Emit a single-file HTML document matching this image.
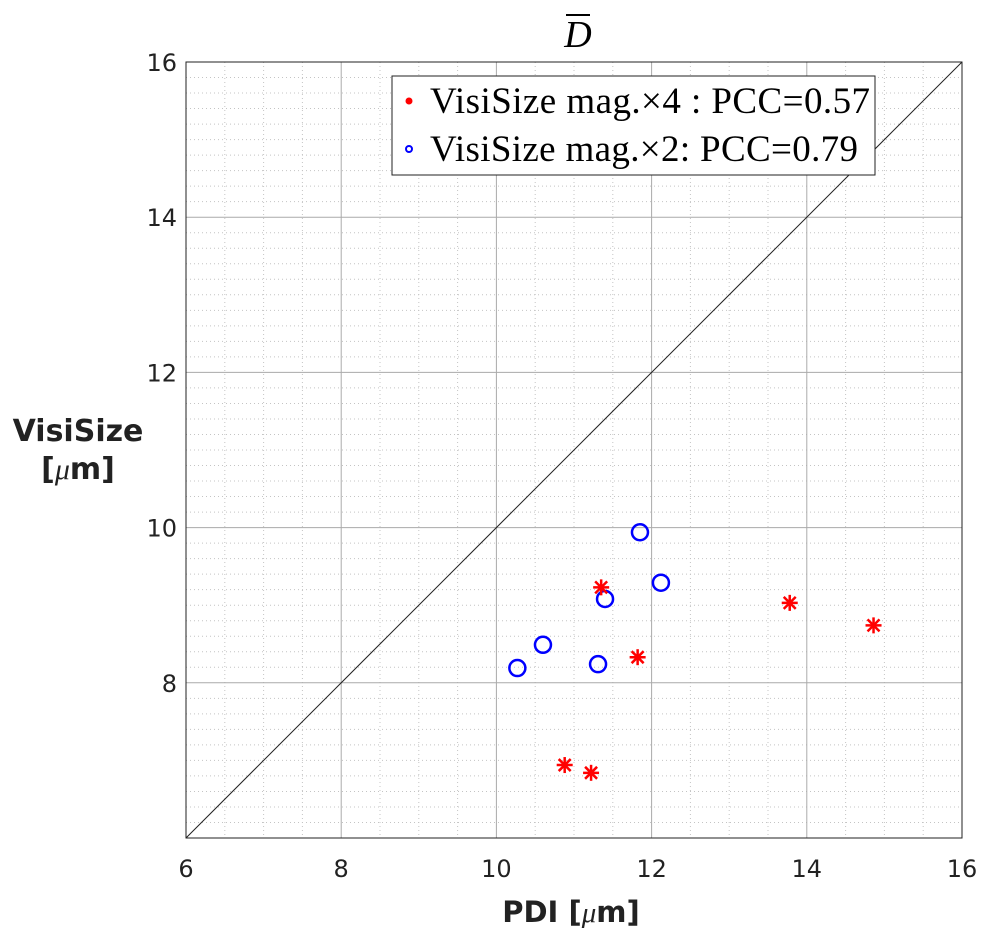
<!DOCTYPE html>
<html><head><meta charset="utf-8"><style>
body{margin:0;background:#fff;width:987px;height:938px;overflow:hidden}
text{font-family:"DejaVu Sans","Liberation Sans",sans-serif}
</style></head><body>
<svg id="chart" width="987" height="938" xmlns="http://www.w3.org/2000/svg">
<g id="grid"></g>
<line id="diag" stroke="#222" stroke-width="1"/>
<g id="marks"></g>
<rect x="186" y="62" width="776" height="776" fill="none" stroke="#222" stroke-width="1"/>
<g id="ticks"></g>
<text x="578" y="47" font-style="italic" font-size="38" text-anchor="middle" style="font-family:'Liberation Serif',serif">D</text>
<line x1="566" y1="15" x2="590" y2="15" stroke="#000" stroke-width="2"/>
<text x="571" y="922" font-size="29" font-weight="bold" text-anchor="middle" fill="#222">PDI [<tspan font-style="italic" font-weight="normal" style="font-family:'Liberation Serif',serif">μ</tspan>m]</text>
<text x="78" y="441" font-size="30" font-weight="bold" text-anchor="middle" fill="#222">VisiSize</text>
<text x="78" y="479" font-size="30" font-weight="bold" text-anchor="middle" fill="#222">[<tspan font-style="italic" font-weight="normal" style="font-family:'Liberation Serif',serif">μ</tspan>m]</text>
<g>
<rect x="392" y="76" width="483" height="99" fill="#fff" stroke="#222" stroke-width="1"/>
<circle cx="409" cy="101" r="3.5" fill="red"/>
<text x="430" y="113" font-size="37" textLength="440" style="font-family:'Liberation Serif',serif">VisiSize mag.×4 : PCC=0.57</text>
<circle cx="409" cy="149" r="3" fill="none" stroke="blue" stroke-width="2"/>
<text x="430" y="161" font-size="37" textLength="428" style="font-family:'Liberation Serif',serif">VisiSize mag.×2: PCC=0.79</text>
</g>
</svg>
<script>
const xTicks=[6,8,10,12,14,16];
const yTicks=[8,10,12,14,16];
const starX=[11.35,13.78,14.86,11.82,10.88,11.22];
const starY=[9.23,9.03,8.74,8.33,6.94,6.84];
const circX=[11.85,12.12,11.40,10.60,10.27,11.31];
const circY=[9.94,9.29,9.08,8.49,8.19,8.24];
const NS='http://www.w3.org/2000/svg';
const X0=186,X1=962,Y0=838,Y1=62;
const sx=v=>X0+(v-6)/10*(X1-X0);
const sy=v=>Y0-(v-6)/10*(Y0-Y1);
function mk(t,a,p){const e=document.createElementNS(NS,t);for(const k in a)e.setAttribute(k,a[k]);p.appendChild(e);return e;}
const grid=document.getElementById('grid');
for(let v=6.5;v<16;v+=0.5){if(Math.abs(v%2)<1e-6)continue;const l=mk('line',{x1:sx(v),x2:sx(v),y1:Y1,y2:Y0,stroke:'#c4c4c4','stroke-dasharray':'1,3'},grid);

}
for(let i=1;i<50;i++){const v=6+i*0.2;if(i%10===0)continue;const l=mk('line',{x1:X0,x2:X1,y1:sy(v),y2:sy(v),stroke:'#c4c4c4','stroke-dasharray':'1,3'},grid);

}
xTicks.forEach(v=>{const l=mk('line',{x1:sx(v),x2:sx(v),y1:Y1,y2:Y0,stroke:'#aaa'},grid);

});
yTicks.concat([6]).forEach(v=>{const l=mk('line',{x1:X0,x2:X1,y1:sy(v),y2:sy(v),stroke:'#aaa'},grid);

});
const d=document.getElementById('diag');d.setAttribute('x1',sx(6));d.setAttribute('y1',sy(6));d.setAttribute('x2',sx(16));d.setAttribute('y2',sy(16));
const ticks=document.getElementById('ticks');
xTicks.forEach(v=>{const t=mk('text',{x:sx(v),y:877,'font-size':24,'text-anchor':'middle',fill:'#222'},ticks);t.textContent=v;

});
yTicks.forEach(v=>{const t=mk('text',{x:177,y:sy(v)+9,'font-size':24,'text-anchor':'end',fill:'#222'},ticks);t.textContent=v;

});
const marks=document.getElementById('marks');
circX.forEach((x,i)=>{const c=mk('circle',{cx:sx(x),cy:sy(circY[i]),r:8,fill:'none',stroke:'blue','stroke-width':2.5},marks);

});
starX.forEach((x,i)=>{const g=mk('g',{transform:`translate(${sx(x)},${sy(starY[i])})`,stroke:'red','stroke-width':2.5},marks);


mk('line',{x1:-8,y1:0,x2:8,y2:0},g);mk('line',{x1:0,y1:-8,x2:0,y2:8},g);
mk('line',{x1:-6,y1:-6,x2:6,y2:6},g);mk('line',{x1:-6,y1:6,x2:6,y2:-6},g);});
</script>
</body></html>
